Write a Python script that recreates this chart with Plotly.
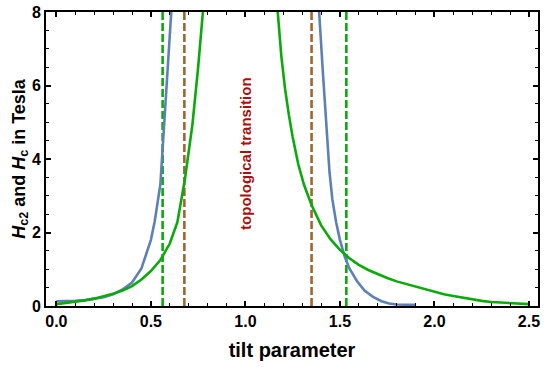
import plotly.graph_objects as go

# Hc2 (blue) - left and right branches
hc2_left_x = [0.00, 0.05, 0.10, 0.15, 0.20, 0.25, 0.30, 0.35, 0.40, 0.45, 0.50, 0.52, 0.55, 0.57, 0.59, 0.61, 0.62]
hc2_left_y = [0.13, 0.13, 0.14, 0.16, 0.19, 0.24, 0.32, 0.45, 0.64, 1.02, 1.80, 2.30, 3.30, 4.90, 6.40, 8.00, 9.00]
hc2_right_x = [1.385, 1.39, 1.41, 1.43, 1.445, 1.46, 1.48, 1.50, 1.525, 1.55, 1.59, 1.63, 1.675, 1.72, 1.76, 1.80, 1.85, 1.90]
hc2_right_y = [9.00, 8.00, 6.35, 4.90, 3.64, 2.90, 2.28, 1.80, 1.35, 1.02, 0.68, 0.42, 0.25, 0.13, 0.07, 0.04, 0.03, 0.03]

# Hc (green) - left and right branches
hc_left_x = [0.00, 0.05, 0.10, 0.15, 0.20, 0.25, 0.30, 0.35, 0.40, 0.45, 0.50, 0.55, 0.60, 0.64, 0.68, 0.72, 0.75, 0.775, 0.785]
hc_left_y = [0.05, 0.08, 0.11, 0.15, 0.20, 0.26, 0.33, 0.42, 0.54, 0.72, 0.95, 1.25, 1.70, 2.28, 3.45, 4.95, 6.50, 8.00, 9.00]
hc_right_x = [1.165, 1.171, 1.19, 1.21, 1.23, 1.25, 1.28, 1.31, 1.35, 1.40, 1.45, 1.50, 1.55, 1.60, 1.65, 1.70, 1.75, 1.80,
              1.85, 1.90, 1.95, 2.00, 2.05, 2.10, 2.15, 2.20, 2.25, 2.30, 2.35, 2.40, 2.45, 2.50]
hc_right_y = [9.00, 8.00, 6.80, 5.90, 5.20, 4.60, 3.85, 3.30, 2.75, 2.20, 1.82, 1.53, 1.30, 1.12, 0.98, 0.86, 0.76, 0.67,
              0.60, 0.52, 0.45, 0.38, 0.32, 0.27, 0.22, 0.17, 0.14, 0.11, 0.09, 0.07, 0.06, 0.05]

# vertical dashed markers
green_vlines = [0.562, 1.534]
brown_vlines = [0.677, 1.350]

x_ticks = [0.0, 0.5, 1.0, 1.5, 2.0, 2.5]
y_ticks = [0, 2, 4, 6, 8]

X_RANGE = [-0.055, 2.548]
Y_RANGE = [0, 8]

BLUE = "#5E81B5"
GREEN = "#0AAA0A"
BROWN = "#A0662F"
TEXTRED = "#A81010"
INK = "#000000"
FONT = "Liberation Sans, Arial, sans-serif"

fig = go.Figure()

for xv in green_vlines:
    fig.add_trace(go.Scatter(x=[xv, xv], y=Y_RANGE, mode="lines",
                             line=dict(color=GREEN, width=2.6, dash="8px,3px"),
                             showlegend=False, hoverinfo="skip"))
for xv in brown_vlines:
    fig.add_trace(go.Scatter(x=[xv, xv], y=Y_RANGE, mode="lines",
                             line=dict(color=BROWN, width=2.6, dash="8px,3px"),
                             showlegend=False, hoverinfo="skip"))

for xs, ys in [(hc2_left_x, hc2_left_y), (hc2_right_x, hc2_right_y)]:
    fig.add_trace(go.Scatter(x=xs, y=ys, mode="lines",
                             line=dict(color=BLUE, width=2.6),
                             showlegend=False))
for xs, ys in [(hc_left_x, hc_left_y), (hc_right_x, hc_right_y)]:
    fig.add_trace(go.Scatter(x=xs, y=ys, mode="lines",
                             line=dict(color=GREEN, width=2.6),
                             showlegend=False))

fig.add_annotation(x=1.0, y=4.15, xref="x", yref="y",
                   text="<b>topological transition</b>", textangle=-90,
                   showarrow=False,
                   font=dict(family=FONT, size=15, color=TEXTRED))

axis_common = dict(
    showline=True, linecolor=INK, linewidth=2, mirror="allticks",
    ticks="inside", tickcolor=INK, tickwidth=1.6, ticklen=5,
    showgrid=False, zeroline=False, layer="above traces",
    tickfont=dict(family=FONT, size=16, color=INK),
)

fig.update_xaxes(range=X_RANGE, tickvals=x_ticks,
                 ticktext=[f"<b>{v:.1f}</b>" for v in x_ticks],
                 minor=dict(dtick=0.1, ticks="inside", ticklen=3, tickwidth=1.3, tickcolor=INK),
                 title=dict(text="<b>tilt parameter</b>", standoff=14,
                            font=dict(family=FONT, size=20, color=INK)),
                 **axis_common)
fig.update_yaxes(range=Y_RANGE, tickvals=y_ticks,
                 ticktext=[f"<b>{v}</b>" for v in y_ticks],
                 minor=dict(dtick=0.5, ticks="inside", ticklen=3, tickwidth=1.3, tickcolor=INK),
                 title=dict(text="<b><i>H</i><sub>c2</sub> and <i>H</i><sub>c</sub> in Tesla</b>", standoff=2,
                            font=dict(family=FONT, size=18, color=INK)),
                 **axis_common)

fig.update_layout(width=545, height=367,
                  margin=dict(l=46, r=7, t=12, b=61, autoexpand=False),
                  plot_bgcolor="white", paper_bgcolor="white",
                  showlegend=False)

fig.write_html("out.html", config={"displayModeBar": False},
               post_script="document.body.style.margin='0';document.body.style.padding='0';")
